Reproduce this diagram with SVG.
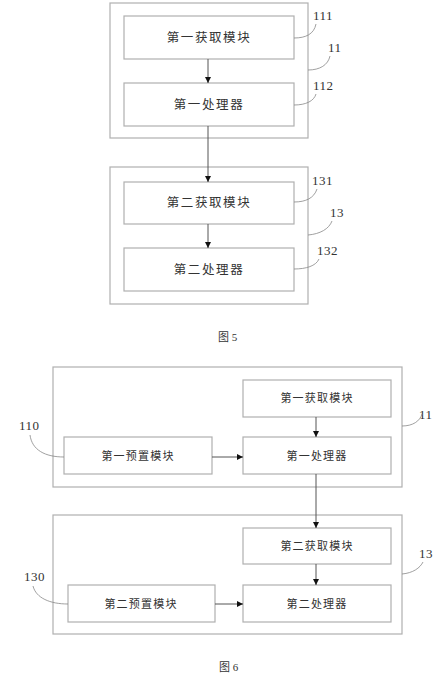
<svg xmlns="http://www.w3.org/2000/svg" width="447" height="683" viewBox="0 0 447 683">
<style>
.box{fill:#fff;stroke:#b0b0b0;stroke-width:1.2}
.outer{fill:none;stroke:#b0b0b0;stroke-width:1.2}
.t5{font-family:"Noto Sans CJK SC",sans-serif;font-size:12.5px;fill:#333;letter-spacing:1.6px;text-anchor:middle}
.t6{font-family:"Noto Sans CJK SC",sans-serif;font-size:11px;fill:#333;letter-spacing:1.2px;text-anchor:middle}
.num{font-family:"Liberation Serif",serif;font-size:13px;fill:#333;letter-spacing:0.5px}
.cap{font-family:"Noto Sans CJK SC","Liberation Serif",serif;font-size:11px;fill:#333}
.lead{fill:none;stroke:#888;stroke-width:0.8}
.conn{fill:none;stroke:#555;stroke-width:1}
</style>
<defs>
<marker id="ah" viewBox="0 0 10 10" refX="10" refY="5" markerWidth="6" markerHeight="6" orient="auto" markerUnits="userSpaceOnUse">
<path d="M0,0 L10,5 L0,10 z" fill="#111"/>
</marker>
</defs>
<rect width="447" height="683" fill="#fff"/>

<!-- Figure 5 -->
<g id="n11a"><rect class="outer" x="110" y="3" width="198" height="135"/></g>
<g id="n111"><rect class="box" x="124" y="16" width="170" height="43"/><text class="t5" x="209" y="42">第一获取模块</text></g>
<g id="n112"><rect class="box" x="124" y="83" width="170" height="43"/><text class="t5" x="209" y="109">第一处理器</text></g>
<g id="n13a"><rect class="outer" x="110" y="167" width="198" height="137"/></g>
<g id="n131"><rect class="box" x="124" y="182" width="170" height="42"/><text class="t5" x="209" y="207">第二获取模块</text></g>
<g id="n132"><rect class="box" x="124" y="248" width="170" height="43"/><text class="t5" x="209" y="274">第二处理器</text></g>

<g id="labels5">
<text class="num" x="313" y="20">111</text>
<path class="lead" d="M294,38 C306,38 314,34 316,24"/>
<text class="num" x="328" y="52">11</text>
<path class="lead" d="M308,70 C320,70 328,65 330,56"/>
<text class="num" x="313" y="90">112</text>
<path class="lead" d="M294,105 C306,105 314,101 316,94"/>
<text class="num" x="312" y="185">131</text>
<path class="lead" d="M294,202 C306,202 314,198 317,189"/>
<text class="num" x="330" y="217">13</text>
<path class="lead" d="M308,235 C320,234 329,229 332,221"/>
<text class="num" x="317" y="255">132</text>
<path class="lead" d="M294,269 C306,269 316,266 319,259"/>
<text class="cap" x="218" y="341">图<tspan font-family="Liberation Serif"> 5</tspan></text>
</g>

<!-- Figure 6 -->
<g id="n11b"><rect class="outer" x="53" y="367" width="349" height="120"/></g>
<g id="n6get1"><rect class="box" x="243" y="380" width="148" height="37"/><text class="t6" x="317" y="402">第一获取模块</text></g>
<g id="n6proc1"><rect class="box" x="243" y="437" width="148" height="37"/><text class="t6" x="317" y="460">第一处理器</text></g>
<g id="n110"><rect class="box" x="64" y="437" width="148" height="37"/><text class="t6" x="138" y="460">第一预置模块</text></g>
<g id="n13b"><rect class="outer" x="53" y="515" width="349" height="119"/></g>
<g id="n6get2"><rect class="box" x="243" y="528" width="148" height="36"/><text class="t6" x="317" y="550">第二获取模块</text></g>
<g id="n6proc2"><rect class="box" x="243" y="585" width="148" height="37"/><text class="t6" x="317" y="608">第二处理器</text></g>
<g id="n130"><rect class="box" x="68" y="585" width="147" height="37"/><text class="t6" x="141" y="608">第二预置模块</text></g>

<g id="labels6">
<text class="num" x="19" y="430">110</text>
<path class="lead" d="M64,457 C45,457 32,450 30,435"/>
<text class="num" x="419" y="419">11</text>
<path class="lead" d="M402,426 C413,426 420,421 422,414"/>
<text class="num" x="24" y="581">130</text>
<path class="lead" d="M68,604 C50,604 36,598 33,586"/>
<text class="num" x="419" y="558">13</text>
<path class="lead" d="M402,574 C413,573 420,568 423,562"/>
<text class="cap" x="219" y="671">图<tspan font-family="Liberation Serif"> 6</tspan></text>
</g>

<g id="connectors">
<line class="conn" x1="208" y1="59" x2="208" y2="83" marker-end="url(#ah)"/>
<line class="conn" x1="208" y1="126" x2="208" y2="182" marker-end="url(#ah)"/>
<line class="conn" x1="208" y1="224" x2="208" y2="248" marker-end="url(#ah)"/>
<line class="conn" x1="316" y1="417" x2="316" y2="437" marker-end="url(#ah)"/>
<line class="conn" x1="212" y1="457" x2="243" y2="457" marker-end="url(#ah)"/>
<line class="conn" x1="316" y1="474" x2="316" y2="528" marker-end="url(#ah)"/>
<line class="conn" x1="316" y1="564" x2="316" y2="585" marker-end="url(#ah)"/>
<line class="conn" x1="215" y1="604" x2="243" y2="604" marker-end="url(#ah)"/>
</g>
</svg>
